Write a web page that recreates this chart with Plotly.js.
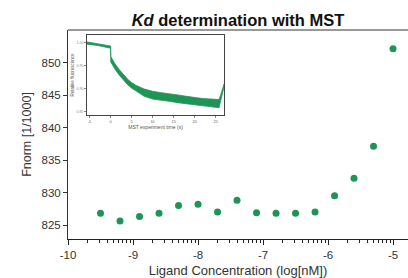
<!DOCTYPE html>
<html>
<head>
<meta charset="utf-8">
<script src="https://cdn.plot.ly/plotly-3.0.1.min.js"></script>
<style>html,body{margin:0;padding:0;background:#fff;}#chart{width:408px;height:278px;}</style>
</head>
<body>
<div id="chart"></div>
<script>
// Main data: ligand concentration (log[nM]) vs Fnorm [1/1000]
var logConc = [-9.5, -9.2, -8.9, -8.6, -8.3, -8.0, -7.7, -7.4, -7.1, -6.8, -6.5, -6.2, -5.9, -5.6, -5.3, -5.0];
var fnorm   = [826.8, 825.6, 826.3, 826.8, 828.0, 828.2, 827.0, 828.8, 826.9, 826.8, 826.8, 827.0, 829.5, 832.2, 837.1, 852.1];

var yTickVals = [825, 830, 835, 840, 845, 850];
var xTickVals = [-10, -9, -8, -7, -6, -5];
var xTickText = ['-10', '-9', '-8', '-7', '-6', '-5'];

// Inset: MST trace band (relative fluorescence)
var mstTime  = [-5.6, -3, 0, 0.05, 0.5, 1, 2, 3, 4, 5, 6, 8, 10, 12, 14, 16, 18, 20, 22, 24, 25.8, 26.2, 26.6, 27];
var mstUpper = [1.002, 0.998, 0.993, 0.970, 0.962, 0.955, 0.942, 0.931, 0.921, 0.913, 0.907, 0.899, 0.894, 0.891, 0.889, 0.886, 0.883, 0.880, 0.878, 0.877, 0.876, 0.886, 0.899, 0.910];
var mstLower = [0.997, 0.994, 0.988, 0.958, 0.950, 0.943, 0.930, 0.919, 0.909, 0.901, 0.894, 0.883, 0.877, 0.874, 0.872, 0.869, 0.867, 0.865, 0.862, 0.860, 0.858, 0.870, 0.889, 0.904];
var insetXTicks = [-5, 0, 5, 10, 15, 20, 25];
var insetXLabels = ['-5', '0', '5', '10', '15', '20', '25'];
var insetYTicks = [0.85, 0.90, 0.95, 1.00];
var insetYLabels = ['0.85', '0.90', '0.95', '1.00'];

var green = '#1f9457';

// minor log ticks between decades
var minorVals = [];
for (var d = -10; d < -4; d++) {
  for (var k = 2; k <= 9; k++) {
    var v = d + Math.log10(k);
    if (v < -4.77) minorVals.push(v);
  }
}

var bandX = mstTime.concat(mstTime.slice().reverse());
var bandY = mstUpper.concat(mstLower.slice().reverse());

var traces = [
  {
    x: logConc, y: fnorm, type: 'scatter', mode: 'markers',
    marker: {color: green, size: 7},
    xaxis: 'x', yaxis: 'y', hoverinfo: 'skip'
  },
  {
    x: bandX, y: bandY, type: 'scatter', mode: 'lines',
    fill: 'toself', fillcolor: green,
    line: {color: green, width: 0.8},
    xaxis: 'x3', yaxis: 'y3', hoverinfo: 'skip'
  }
];

var FF = 'Liberation Sans, Arial, sans-serif';
var tickFont = {family: FF, size: 11.5, color: '#333'};

var layout = {
  width: 408, height: 278,
  margin: {l: 68, r: 0, t: 30, b: 39, pad: 0},
  paper_bgcolor: '#fff', plot_bgcolor: '#fff',
  showlegend: false,
  title: {
    text: '<b><i>Kd</i> determination with MST</b>',
    font: {family: FF, size: 16.5, color: '#111'},
    x: 0.5, xref: 'paper', xanchor: 'center',
    y: 0.928, yref: 'container', yanchor: 'middle'
  },
  xaxis: {
    range: [-10, -4.77],
    tickmode: 'array', tickvals: xTickVals, ticktext: xTickText,
    ticks: 'outside', ticklen: 5, tickwidth: 1, tickcolor: '#222',
    showline: true, linecolor: '#222', linewidth: 1.2,
    showgrid: false, zeroline: false,
    tickfont: tickFont,
    minor: {tickmode: 'array', tickvals: minorVals, ticks: 'outside', ticklen: 3, tickwidth: 1, tickcolor: '#222', showgrid: false},
    title: {text: 'Ligand Concentration (log[nM])', font: {family: FF, size: 13, color: '#333'}, standoff: 5}
  },
  yaxis: {
    range: [822.85, 855],
    tickmode: 'array', tickvals: yTickVals,
    ticks: 'outside', ticklen: 4, tickwidth: 1, tickcolor: '#333',
    showline: true, linecolor: '#333', linewidth: 1,
    showgrid: false, zeroline: false,
    tickfont: tickFont,
    title: {text: 'Fnorm [1/1000]', font: {family: FF, size: 12.5, color: '#333'}, standoff: 7}
  },
  xaxis3: {
    domain: [0.056, 0.459], anchor: 'y3',
    range: [-5.6, 27],
    tickmode: 'array', tickvals: insetXTicks, ticktext: insetXLabels,
    ticks: 'outside', ticklen: 2, tickwidth: 0.7, tickcolor: '#555',
    showline: true, mirror: true, linecolor: '#444', linewidth: 1,
    showgrid: false, zeroline: false,
    tickfont: {family: FF, size: 4, color: '#666'},
    title: {text: 'MST experiment time (s)', font: {family: FF, size: 5, color: '#555'}, standoff: 1}
  },
  yaxis3: {
    domain: [0.593, 0.976], anchor: 'x3',
    range: [0.842, 1.017],
    tickmode: 'array', tickvals: insetYTicks, ticktext: insetYLabels,
    ticks: 'outside', ticklen: 2, tickwidth: 0.7, tickcolor: '#555',
    showline: true, mirror: true, linecolor: '#444', linewidth: 1,
    showgrid: false, zeroline: false,
    tickfont: {family: FF, size: 3.5, color: '#888'},
    title: {text: 'Relative fluorescence', font: {family: FF, size: 4.5, color: '#555'}, standoff: 1}
  },
  shapes: [
    {type: 'line', xref: 'paper', yref: 'paper', x0: 0, x1: 1, y0: 1, y1: 1, line: {color: '#777', width: 1.5}}
  ]
};

Plotly.newPlot('chart', traces, layout, {displayModeBar: false, staticPlot: true});
</script>
</body>
</html>
